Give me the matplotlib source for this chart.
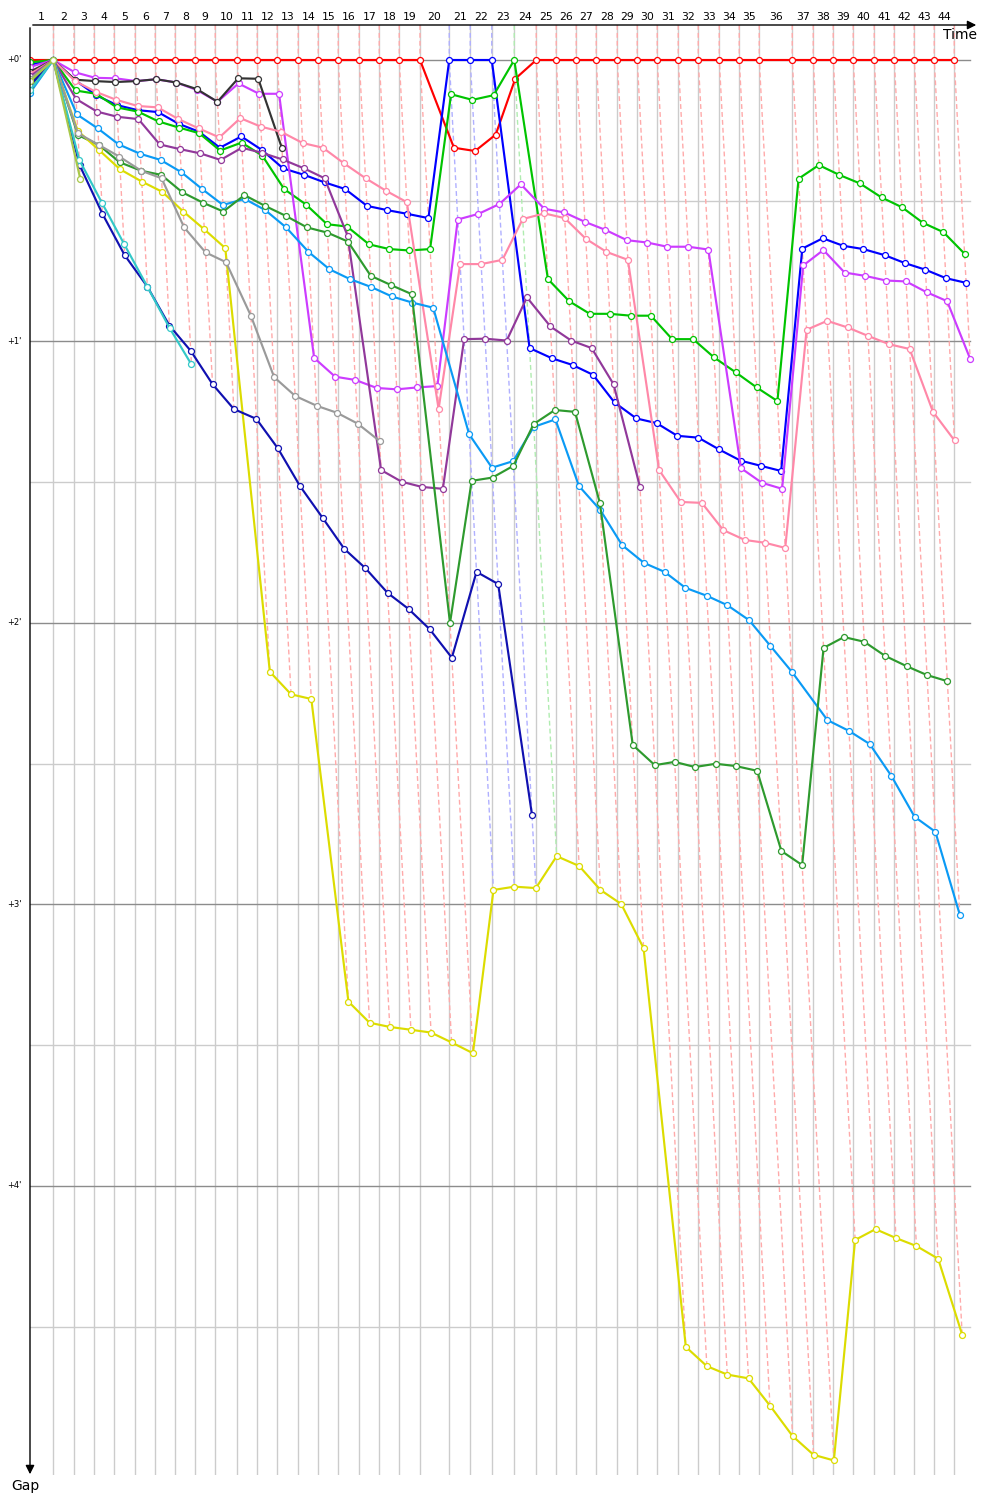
import numpy as np
import matplotlib
matplotlib.use("Agg")
import matplotlib.pyplot as plt

# ── leader lap times (s); the first entry is the run from the axis origin to the start ──
LEADER_LAP_S = [93, 83, 81, 80, 84, 80, 80, 80, 80, 88, 80, 80, 84, 80, 80, 84, 80, 80, 83,
                117, 84, 86, 90, 88, 80, 80, 80, 84, 80, 80, 84, 80, 84, 80, 80, 132, 84, 80,
                80, 84, 80, 80, 80, 80]
LAP_LABELS = [str(i) for i in range(1, 45)]

# ── gap to leader (s) at each timing line, index 0..44; None = no data ─────────
N = None
GAP_RED = [0, 0] + [0] * 18 + [18.7, 19.4, 15.9, 4.0] + [0] * 21
GAP_BLUE = [1.0, 0, 4.3, 7.5, 9.6, 10.7, 11.1, 13.6, 15.3, 18.7, 16.3, 19.2, 23.1, 24.5, 26.1,
            27.5, 31.1, 32.0, 32.8, 33.7, 0, 0, 0, 61.4, 63.6, 65.0, 67.1, 73.0, 76.4, 77.4,
            80.1, 80.5, 83.0, 85.4, 86.5, 87.6, 40.2, 38.0, 39.6, 40.3, 41.6, 43.3, 44.7, 46.5, 47.5]
GAP_GREEN = [0.5, 0, 6.5, 7.2, 10.1, 11.0, 13.1, 14.4, 15.6, 19.3, 17.6, 20.4, 27.5, 30.8, 35.0,
             35.5, 39.3, 40.3, 40.6, 40.3, 7.3, 8.5, 7.5, 0, 46.7, 51.4, 54.1, 54.1, 54.5, 54.5,
             59.5, 59.5, 63.4, 66.6, 69.8, 72.7, 25.3, 22.4, 24.5, 26.3, 29.3, 31.4, 34.7, 36.7, 41.3]
GAP_MAGENTA = [1.5, 0, 2.6, 3.8, 3.9, 4.5, 4.1, 4.8, 6.4, 8.9, 5.0, 7.2, 7.2, 63.5, 67.5, 68.2,
               69.9, 70.2, 69.8, 69.5, 34.0, 32.8, 30.7, 26.5, 31.7, 32.5, 34.5, 36.2, 38.4, 38.9,
               39.8, 39.8, 40.4, 87.0, 90.1, 91.4, 43.8, 40.5, 45.3, 46.0, 47.0, 47.2, 49.5, 51.4, 63.7]
GAP_BLACK = [2.5, 0, 4.2, 4.5, 4.7, 4.5, 4.1, 4.8, 6.2, 8.9, 3.9, 4.0, 18.8] + [N] * 32
GAP_PINK = [3.0, 0, 4.5, 6.8, 8.5, 9.8, 10.1, 12.6, 14.6, 16.5, 12.4, 14.2, 15.3, 17.7, 18.7,
            22.0, 25.2, 27.9, 30.3, 74.4, 43.5, 43.5, 42.6, 33.9, 32.7, 33.7, 38.1, 40.9, 42.6,
            87.4, 94.2, 94.4, 100.2, 102.3, 102.9, 104.0, 57.5, 55.6, 57.0, 58.8, 60.6, 61.6,
            75.0, 81.1, N]
GAP_PURPLE = [3.5, 0, 8.3, 11.0, 12.1, 12.6, 18.0, 19.0, 19.9, 21.3, 18.7, 19.8, 21.2, 23.1, 25.2,
              37.5, 87.4, 89.9, 91.0, 91.4, 59.5, 59.4, 59.8, 50.6, 56.8, 59.8, 61.4, 69.1, 91.0] + [N] * 16
GAP_LIGHTBLUE = [7.0, 0, 11.6, 14.6, 18.0, 20.0, 21.3, 23.9, 27.5, 30.9, 29.6, 32.0, 35.7, 40.9,
                 44.6, 46.7, 48.4, 50.4, 51.7, 52.8, 79.8, 86.9, 85.5, 78.2, 76.6, 90.8, 95.9,
                 103.4, 107.2, 109.1, 112.5, 114.2, 116.2, 119.4, 124.9, 130.4, 140.7, 143.0,
                 145.8, 152.6, 161.3, 164.5, 182.2, N, N]
GAP_DARKGREEN = [5.0, 0, 16.0, 18.1, 21.8, 23.6, 24.5, 28.2, 30.4, 32.3, 28.8, 31.1, 33.2, 35.7,
                 36.8, 38.7, 46.0, 48.0, 49.9, 120.0, 89.7, 89.0, 86.5, 77.6, 74.6, 75.0, 94.4,
                 146.0, 150.3, 149.6, 150.7, 150.0, 150.5, 151.5, 168.6, 171.6, 125.3, 123.0,
                 124.0, 127.0, 129.2, 131.1, 132.4, N, N]
GAP_YELLOW = [6.0, 0, 15.1, 19.2, 23.3, 25.9, 28.1, 32.3, 36.1, 40.1, 130.4, 135.2, 136.2, 200.7,
              205.2, 206.1, 206.7, 207.3, 209.4, 211.7, 176.9, 176.2, 176.5, 169.7, 171.8, 176.9,
              179.9, 189.3, 274.3, 278.4, 280.2, 281.0, 286.8, 293.3, 297.3, 298.5, 251.5, 249.2,
              251.1, 252.8, 255.5, 271.7, N, N, N]
GAP_GRAY = [4.0, 0, 15.6, 18.1, 20.6, 23.6, 25.2, 35.7, 41.0, 43.1, 54.5, 67.6, 71.6, 73.7, 75.2,
            77.5, 81.2] + [N] * 28
GAP_NAVY = [5.5, 0, 22.4, 32.8, 41.6, 48.3, 56.6, 62.0, 69.1, 74.4, 76.5, 82.8, 90.8, 97.6, 104.2,
            108.3, 113.6, 117.0, 121.3, 127.4, 109.1, 111.7, 160.9] + [N] * 22
GAP_CYAN = [6.5, 0, 21.3, 30.4, 39.2, 48.3, 57.1, 64.9] + [N] * 37
GAP_OLIVE = [4.5, 0, 25.4] + [N] * 42

DRIVERS = [
    (GAP_RED, "#ff0000"),
    (GAP_BLUE, "#0000ff"),
    (GAP_GREEN, "#00c400"),
    (GAP_MAGENTA, "#cc3cff"),
    (GAP_BLACK, "#333333"),
    (GAP_PINK, "#ff88a8"),
    (GAP_PURPLE, "#91389a"),
    (GAP_LIGHTBLUE, "#0a9af5"),
    (GAP_DARKGREEN, "#2e9a2e"),
    (GAP_YELLOW, "#dcdc00"),
    (GAP_GRAY, "#9a9a9a"),
    (GAP_NAVY, "#1010b0"),
    (GAP_CYAN, "#33c8c8"),
    (GAP_OLIVE, "#a8c84a"),
]
DASH_COLORS = {"#ff0000": "#ffaaaa", "#0000ff": "#b0b0ff", "#00c400": "#b0ecb0"}

# ── derived timing lines ──────────────────────────────────────────────────────
T = np.concatenate([[0.0], np.cumsum(LEADER_LAP_S)])   # 45 timing lines
X_MAX = 3780.0
Y_TOP, Y_BOT = -7.46, 301.6
PX_PER_S = 281.5 / 60          # vertical scale, used only to place text

fig = plt.figure(figsize=(10, 15), dpi=100)
ax = fig.add_axes([0.03, 25 / 1500, 0.945, 1450 / 1500])
ax.set_xlim(0, X_MAX)
ax.set_ylim(Y_BOT, Y_TOP)
ax.axis("off")

# grid
for t in T[1:]:
    ax.plot([t, t], [Y_TOP, Y_BOT], color="#cccccc", lw=1.0, zorder=1)
for g in range(0, 300, 30):
    col = "#8c8c8c" if g % 60 == 0 else "#cccccc"
    ax.plot([0, 3760], [g, g], color=col, lw=1.0, zorder=1)
    if g % 60 == 0:
        ax.text(-32, g, "+%d'" % (g // 60), ha="right", va="center",
                fontsize=6, clip_on=False)

# lap polylines (dashed), coloured after the leader of that lap
for k in range(1, len(T)):
    gaps = [(d[0][k], d[1]) for d in DRIVERS if d[0][k] is not None]
    leader_col = next(c for g, c in gaps if g == 0)
    gs = sorted(g for g, c in gaps)
    xs = [T[k]] + [T[k] + g for g in gs]
    ys = [Y_TOP] + gs
    ax.plot(xs, ys, color=DASH_COLORS.get(leader_col, "#ffaaaa"), lw=1.0,
            linestyle=(0, (3.5, 2.2)), zorder=2)

# driver traces
for gaps, col in DRIVERS:
    xs, ys = [], []
    for k, g in enumerate(gaps):
        if g is None:
            continue
        xs.append(T[k] if k == 0 else T[k] + g)
        ys.append(g)
    ax.plot(xs, ys, color=col, lw=1.55, marker="o", ms=4.3, mfc="white", mec=col,
            mew=0.9, zorder=3, clip_on=True)

# lap numbers above the time axis
for k, lab in enumerate(LAP_LABELS, start=1):
    ax.text((T[k - 1] + T[k]) / 2, Y_TOP - 8 / PX_PER_S, lab, ha="center", va="center",
            fontsize=7.8, clip_on=False)

# axes arrows
ax.annotate("", xy=(0.979, 1 - 25 / 1500), xytext=(0.03, 1 - 25 / 1500),
            xycoords="figure fraction", textcoords="figure fraction",
            arrowprops=dict(arrowstyle="-|>", color="black", lw=1.0, mutation_scale=13))
ax.annotate("", xy=(0.03, 1 - 1477 / 1500), xytext=(0.03, 1 - 25 / 1500),
            xycoords="figure fraction", textcoords="figure fraction",
            arrowprops=dict(arrowstyle="-|>", color="black", lw=1.0, mutation_scale=13))
fig.text(0.960, 1 - 35 / 1500, "Time", ha="center", va="center", fontsize=10)
fig.text(0.025, 1 - 1486 / 1500, "Gap", ha="center", va="center", fontsize=10)

fig.savefig("out.png", dpi=100)
